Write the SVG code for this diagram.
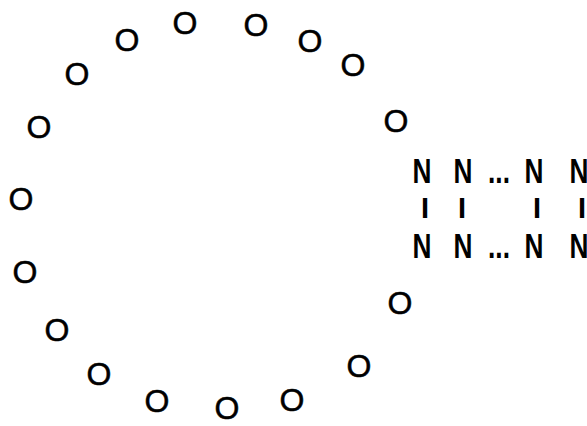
<svg xmlns="http://www.w3.org/2000/svg" width="587" height="426" viewBox="0 0 587 426">
<style>
.o{font-family:"Liberation Sans",Arial,sans-serif;font-size:32px;text-anchor:middle;fill:#000;stroke:#000;stroke-width:0.5}
.n{font-family:"Liberation Sans",Arial,sans-serif;font-weight:bold;font-size:35px;text-anchor:middle;fill:#000}
.i{font-family:"Liberation Sans",Arial,sans-serif;font-weight:bold;font-size:29px;text-anchor:middle;fill:#000}
</style>
<rect width="587" height="426" fill="#fff"/>
<g id="ring">
<text class="o" x="39" y="138">O</text>
<text class="o" x="77" y="85">O</text>
<text class="o" x="127" y="51">O</text>
<text class="o" x="185" y="34">O</text>
<text class="o" x="256" y="36">O</text>
<text class="o" x="310" y="52">O</text>
<text class="o" x="353" y="76">O</text>
<text class="o" x="396" y="132">O</text>
<text class="o" x="21" y="210">O</text>
<text class="o" x="25" y="283">O</text>
<text class="o" x="57" y="341">O</text>
<text class="o" x="99" y="385">O</text>
<text class="o" x="157" y="412">O</text>
<text class="o" x="227" y="419">O</text>
<text class="o" x="292" y="411">O</text>
<text class="o" x="359" y="377">O</text>
<text class="o" x="400" y="314">O</text>
</g>
<g id="grid">
<text class="n" transform="translate(422,183) scale(0.75,1)">N</text>
<text class="n" transform="translate(463,183) scale(0.75,1)">N</text>
<text class="n" transform="translate(499,183) scale(0.75,1)">...</text>
<text class="n" transform="translate(534,183) scale(0.75,1)">N</text>
<text class="n" transform="translate(579,183) scale(0.75,1)">N</text>
<text class="i" x="425" y="218">I</text>
<text class="i" x="462" y="218">I</text>
<text class="i" x="537" y="218">I</text>
<text class="i" x="582" y="218">I</text>
<text class="n" transform="translate(422,258) scale(0.75,1)">N</text>
<text class="n" transform="translate(463,258) scale(0.75,1)">N</text>
<text class="n" transform="translate(499,258) scale(0.75,1)">...</text>
<text class="n" transform="translate(534,258) scale(0.75,1)">N</text>
<text class="n" transform="translate(579,258) scale(0.75,1)">N</text>
</g>
</svg>
